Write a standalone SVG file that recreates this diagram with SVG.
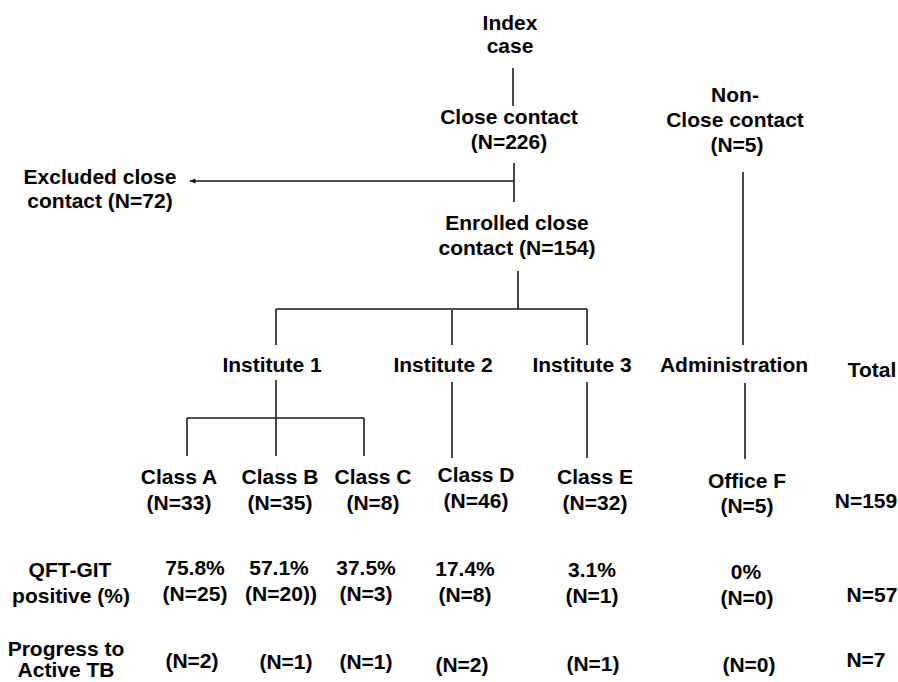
<svg xmlns="http://www.w3.org/2000/svg" width="898" height="682" viewBox="0 0 898 682">
<defs>
<style>
text{font-family:"Liberation Sans",Arial,sans-serif;font-weight:bold;font-size:21px;fill:#000;text-anchor:middle}
.ln{stroke:#1a1a1a;stroke-width:1.6;fill:none}
</style>
<marker id="ah" viewBox="0 0 6 6" refX="5.5" refY="3" markerWidth="6" markerHeight="6" markerUnits="userSpaceOnUse" orient="auto">
<path d="M0,0.5 L6,3 L0,5.5 Z" fill="#1a1a1a"/>
</marker>
</defs>
<rect width="898" height="682" fill="#fff"/>
<g id="connectors">
<line class="ln" x1="513" y1="68" x2="513" y2="106"/>
<line class="ln" x1="514" y1="163" x2="514" y2="202"/>
<line class="ln" x1="514" y1="181" x2="190" y2="181" marker-end="url(#ah)"/>
<line class="ln" x1="518" y1="271" x2="518" y2="309"/>
<line class="ln" x1="276" y1="309" x2="587" y2="309"/>
<line class="ln" x1="276" y1="309" x2="276" y2="345"/>
<line class="ln" x1="452" y1="310" x2="452" y2="345"/>
<line class="ln" x1="587" y1="309" x2="587" y2="345"/>
<line class="ln" x1="743" y1="172" x2="743" y2="345"/>
<line class="ln" x1="276" y1="380" x2="276" y2="456"/>
<line class="ln" x1="187" y1="418" x2="364" y2="418"/>
<line class="ln" x1="187" y1="418" x2="187" y2="456"/>
<line class="ln" x1="364" y1="418" x2="364" y2="456"/>
<line class="ln" x1="452" y1="382" x2="452" y2="458"/>
<line class="ln" x1="587" y1="382" x2="587" y2="458"/>
<line class="ln" x1="745" y1="383" x2="745" y2="459"/>
</g>
<g id="index-case"><text x="510" y="30">Index</text><text x="510" y="53">case</text></g>
<g id="close-contact"><text x="509" y="124">Close contact</text><text x="509" y="149">(N=226)</text></g>
<g id="non-close-contact"><text x="735" y="102">Non-</text><text x="735" y="127">Close contact</text><text x="737" y="152">(N=5)</text></g>
<g id="excluded"><text x="100" y="184">Excluded close</text><text x="100" y="208">contact (N=72)</text></g>
<g id="enrolled"><text x="517" y="230">Enrolled close</text><text x="517" y="255">contact (N=154)</text></g>
<g id="institute-1"><text x="272" y="372">Institute 1</text></g>
<g id="institute-2"><text x="443" y="372">Institute 2</text></g>
<g id="institute-3"><text x="582" y="372">Institute 3</text></g>
<g id="administration"><text x="734" y="372">Administration</text></g>
<g id="total"><text x="872" y="377">Total</text></g>
<g id="class-a"><text x="179" y="484">Class A</text><text x="179" y="510">(N=33)</text></g>
<g id="class-b"><text x="280" y="484">Class B</text><text x="280" y="510">(N=35)</text></g>
<g id="class-c"><text x="373" y="484">Class C</text><text x="373" y="510">(N=8)</text></g>
<g id="class-d"><text x="476" y="482">Class D</text><text x="476" y="508">(N=46)</text></g>
<g id="class-e"><text x="595" y="484">Class E</text><text x="595" y="510">(N=32)</text></g>
<g id="office-f"><text x="747" y="488">Office F</text><text x="747" y="513">(N=5)</text></g>
<g id="total-n"><text x="866" y="508">N=159</text></g>
<g id="qft-label"><text x="70" y="577">QFT-GIT</text><text x="71" y="603">positive (%)</text></g>
<g id="qft-a"><text x="195" y="575">75.8%</text><text x="195" y="601">(N=25)</text></g>
<g id="qft-b"><text x="279" y="575">57.1%</text><text x="281" y="601">(N=20))</text></g>
<g id="qft-c"><text x="366" y="575">37.5%</text><text x="366" y="601">(N=3)</text></g>
<g id="qft-d"><text x="465" y="576">17.4%</text><text x="465" y="602">(N=8)</text></g>
<g id="qft-e"><text x="592" y="577">3.1%</text><text x="592" y="603">(N=1)</text></g>
<g id="qft-f"><text x="746" y="579">0%</text><text x="747" y="605">(N=0)</text></g>
<g id="qft-total"><text x="872" y="602">N=57</text></g>
<g id="tb-label"><text x="66" y="656">Progress to</text><text x="66" y="677">Active TB</text></g>
<g id="tb-a"><text x="192" y="668">(N=2)</text></g>
<g id="tb-b"><text x="286" y="669">(N=1)</text></g>
<g id="tb-c"><text x="366" y="669">(N=1)</text></g>
<g id="tb-d"><text x="462" y="672">(N=2)</text></g>
<g id="tb-e"><text x="593" y="671">(N=1)</text></g>
<g id="tb-f"><text x="749" y="672">(N=0)</text></g>
<g id="tb-total"><text x="866" y="667">N=7</text></g>
</svg>
